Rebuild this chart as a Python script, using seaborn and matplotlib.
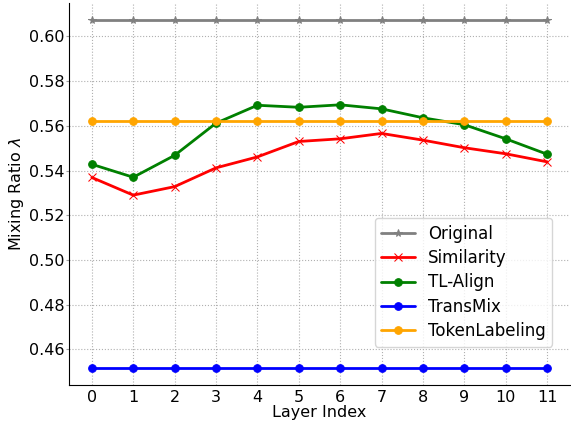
import seaborn as sns
import numpy as np
import matplotlib.pyplot as plt
import pandas as pd

# layer indices and mixing ratios per method
layers = list(range(12))
original = [0.6072] * 12
similarity = [0.5369, 0.5290, 0.5328, 0.5412, 0.5461, 0.5530,
              0.5542, 0.5566, 0.5536, 0.5502, 0.5475, 0.5439]
tl_align = [0.5428, 0.5370, 0.5468, 0.5612, 0.5692, 0.5683,
            0.5694, 0.5676, 0.5636, 0.5605, 0.5542, 0.5473]
transmix = [0.4519] * 12
token_labeling = [0.5622] * 12

series = [
    ('Original', original, 'gray', '*'),
    ('Similarity', similarity, 'red', 'x'),
    ('TL-Align', tl_align, 'green', 'o'),
    ('TransMix', transmix, 'blue', 'o'),
    ('TokenLabeling', token_labeling, 'orange', 'o'),
]

sns.set_style("ticks", {
    'axes.edgecolor': 'black', 'text.color': 'black',
    'axes.labelcolor': 'black', 'xtick.color': 'black', 'ytick.color': 'black',
})
plt.rcParams['font.family'] = ['DejaVu Sans']

fig, ax = plt.subplots(figsize=(5.71, 4.22), dpi=100)
for name, vals, color, marker in series:
    df = pd.DataFrame({'Layer': layers, 'Ratio': vals})
    sns.lineplot(data=df, x='Layer', y='Ratio', ax=ax, color=color,
                 marker=marker, markersize=5.5, linewidth=2,
                 markeredgecolor=color, label=name)

ax.grid(True, linestyle=':', color='#b0b0b0', linewidth=0.8)
ax.set_xticks(layers)
ax.set_yticks([0.46, 0.48, 0.50, 0.52, 0.54, 0.56, 0.58, 0.60])
ax.tick_params(axis='x', labelsize=11.5, length=0, pad=3.5)
ax.tick_params(axis='y', labelsize=11.5, length=2.5, pad=1, color='#a0a0a0')
ax.set_xlabel('Layer Index', fontsize=11.5, labelpad=0)
ax.set_ylabel(r'Mixing Ratio $\lambda$', fontsize=11.5, labelpad=2)
sns.despine(ax=ax)
ax.legend(loc='lower right', fontsize=12, bbox_to_anchor=(0.965, 0.1),
          borderaxespad=0, labelspacing=0.38)

fig.subplots_adjust(left=0.121, right=0.998, top=0.993, bottom=0.088)
fig.savefig('out.png', dpi=100)
